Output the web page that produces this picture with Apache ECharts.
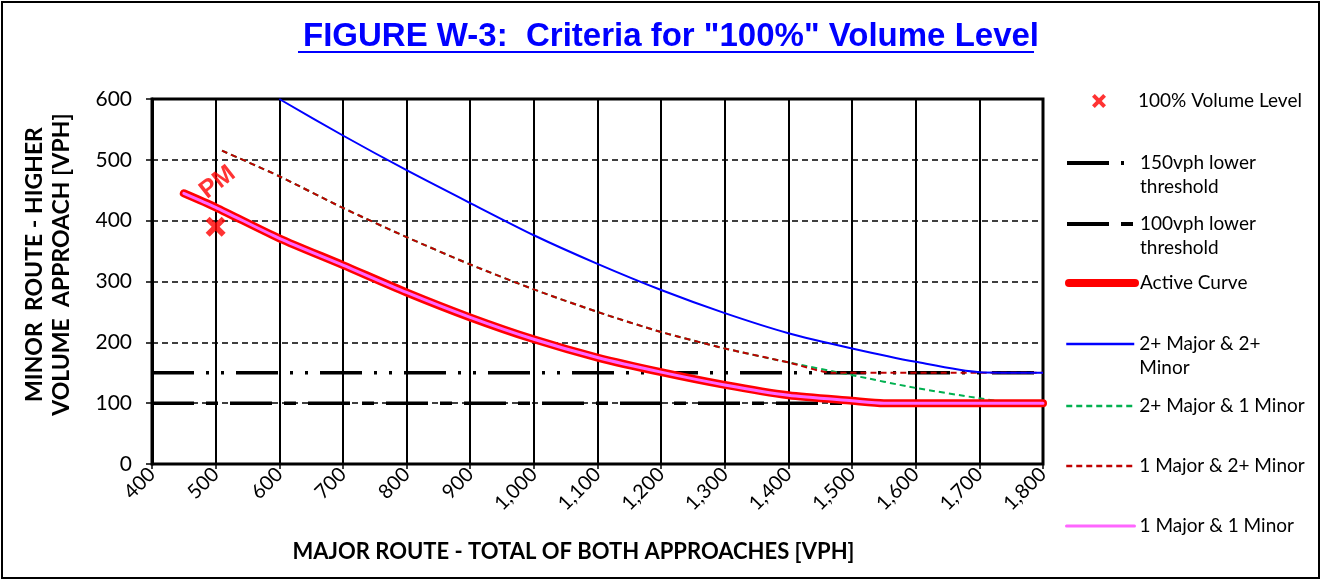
<!DOCTYPE html>
<html><head><meta charset="utf-8">
<script src="https://cdn.jsdelivr.net/npm/echarts@6/dist/echarts.min.js"></script>
<style>html,body{margin:0;padding:0;background:#fff}#c{width:1323px;height:581px}</style>
</head><body><div id="c"></div>
<script>
// ---- data ----
const titleText = 'FIGURE W-3:  Criteria for "100%" Volume Level';
const xAxisName = 'MAJOR ROUTE - TOTAL OF BOTH APPROACHES [VPH]';
const yAxisName = 'MINOR  ROUTE - HIGHER\nVOLUME  APPROACH [VPH]';

const volPointX = [500];
const volPointY = [390];
const pmLabelX = [503];
const pmLabelY = [463];

const thrX = [400, 1800];
const thr150Y = [150, 150];
const thr100Y = [100, 100];

const blueX = [600, 700, 800, 900, 1000, 1100, 1200, 1300, 1400, 1500, 1600, 1700, 1800];
const blueY = [600, 540, 483, 429, 376, 329, 286, 248, 215, 190, 168, 151, 150];

const redDashX = [510, 600, 700, 800, 900, 1000, 1100, 1200, 1300, 1400, 1470, 1800];
const redDashY = [515, 473, 421, 373, 328, 287, 250, 217, 190, 167, 150, 150];

const greenX = [510, 600, 700, 800, 900, 1000, 1100, 1200, 1300, 1400, 1500, 1600, 1700, 1750];
const greenY = [515, 473, 421, 373, 328, 287, 250, 217, 190, 167, 146, 125, 108, 100];

const pinkX = [450, 500, 600, 700, 800, 900, 1000, 1100, 1200, 1300, 1400, 1500, 1550, 1800];
const pinkY = [445, 422, 371, 327, 282, 241, 205, 175, 151, 130, 113, 104, 100, 100];

const legendNames = ['100% Volume Level', '150vph lower threshold', '100vph lower threshold', 'Active Curve',
  '2+ Major & 2+ Minor', '2+ Major & 1 Minor', '1 Major & 2+ Minor', '1 Major & 1 Minor'];
const legendLabels = ['100% Volume Level', '150vph lower\nthreshold', '100vph lower\nthreshold', 'Active Curve',
  '2+ Major & 2+\nMinor', '2+ Major & 1 Minor', '1 Major & 2+ Minor', '1 Major & 1 Minor'];

// ---- build ----
const zip = (xs, ys) => xs.map((x, i) => [x, ys[i]]);
const FONT = 'Lato';
const X_PATH = 'path://M0,4 L4,0 L10,6 L16,0 L20,4 L14,10 L20,16 L16,20 L10,14 L4,20 L0,16 L6,10 Z';

const chart = echarts.init(document.getElementById('c'));

const cv = document.createElement('canvas').getContext('2d');
const titleFS = 33;
cv.font = 'bold ' + titleFS + 'px "Liberation Sans"';
const tW = cv.measureText(titleText).width;
const tCenter = 666;

const legendCenters = [101, 163, 224, 283, 344, 406, 466, 526];
const legendLineW = [0, 4, 4, 8, 2.5, 2.5, 2.5, 3];
const LH = 24;
const legends = legendNames.map((n, i) => {
  const twoLine = legendLabels[i].indexOf('\n') >= 0;
  const isScatter = i === 0;
  const l = {
    data: [n], orient: 'vertical', left: isScatter ? 1092 : 1065,
    top: twoLine ? legendCenters[i] - 1.5 * LH : legendCenters[i] - LH / 2,
    itemWidth: i === 3 ? 66 : 68, itemHeight: 14, padding: 0, itemGap: 0,
    selectedMode: false,
    formatter: () => twoLine ? ' \n' + legendLabels[i] : legendLabels[i],
    textStyle: { fontFamily: FONT, fontSize: 19, color: '#000', lineHeight: LH }
  };
  if (!isScatter) {
    l.itemStyle = { opacity: 0 };
    l.lineStyle = { width: legendLineW[i] };
  }
  return l;
});

const lineBase = { type: 'line', showSymbol: false, symbol: 'none', silent: true, animation: false };

const option = {
  animation: false,
  backgroundColor: '#fff',
  title: {
    text: titleText, left: tCenter - tW / 2, top: 15,
    textStyle: { fontFamily: '"Liberation Sans"', fontWeight: 'bold', fontSize: titleFS, color: '#0000FF' }
  },
  graphic: [
    { type: 'rect', shape: { x: 2, y: 2, width: 1317, height: 576 }, style: { fill: 'none', stroke: '#000', lineWidth: 2 }, silent: true },
    { type: 'line', shape: { x1: tCenter - tW / 2, y1: 52, x2: tCenter + tW / 2, y2: 52 }, style: { stroke: '#0000FF', lineWidth: 2 }, silent: true }
  ],
  legend: legends,
  grid: { left: 152, right: 280, top: 99, bottom: 117, show: true, borderColor: '#000', borderWidth: 3 },
  xAxis: {
    type: 'value', min: 400, max: 1800, interval: 100,
    name: xAxisName, nameLocation: 'middle', nameGap: 77,
    nameTextStyle: { fontFamily: FONT, fontWeight: 'bold', fontSize: 22, color: '#000', padding: [0, 48, 0, 0] },
    axisLine: { show: true, lineStyle: { color: '#000', width: 2 } },
    axisTick: { show: true, length: 5, lineStyle: { color: '#000', width: 1.5 } },
    axisLabel: { rotate: 45, margin: 7, fontFamily: FONT, fontSize: 20, color: '#000',
      formatter: v => v.toLocaleString('en-US') },
    splitLine: { show: true, lineStyle: { color: '#000', width: 2 } }
  },
  yAxis: {
    type: 'value', min: 0, max: 600, interval: 100,
    name: yAxisName, nameLocation: 'middle', nameGap: 77, nameRotate: 90,
    nameTextStyle: { fontFamily: FONT, fontWeight: 'bold', fontSize: 23, color: '#000', lineHeight: 27, padding: [0, 0, 0, 34] },
    axisLine: { show: true, lineStyle: { color: '#000', width: 3 } },
    axisTick: { show: true, length: 6, lineStyle: { color: '#000', width: 1.5 } },
    axisLabel: { margin: 20, fontFamily: FONT, fontSize: 21, color: '#000' },
    splitLine: { show: true, lineStyle: { color: '#000', width: 1.5, type: [6, 4] } }
  },
  series: [
    Object.assign({}, lineBase, { name: legendNames[1], data: zip(thrX, thr150Y), color: '#000',
      lineStyle: { color: '#000', width: 3.5, type: [42, 12, 3, 12, 3, 12], cap: 'butt' } }),
    Object.assign({}, lineBase, { name: legendNames[2], data: zip(thrX, thr100Y), color: '#000',
      lineStyle: { color: '#000', width: 3.5, type: [42, 12, 12, 12], cap: 'butt' } }),
    Object.assign({}, lineBase, { name: legendNames[5], data: zip(greenX, greenY), color: '#00B050', smooth: 0.25,
      lineStyle: { color: '#00B050', width: 2, type: [6, 4] } }),
    Object.assign({}, lineBase, { name: legendNames[6], data: zip(redDashX, redDashY), color: '#C00000', smooth: 0.25,
      lineStyle: { color: '#C00000', width: 2, type: [6, 4] } }),
    Object.assign({}, lineBase, { name: legendNames[4], data: zip(blueX, blueY), color: '#0000FF', smooth: 0.25,
      lineStyle: { color: '#0000FF', width: 2 } }),
    Object.assign({}, lineBase, { name: legendNames[3], data: zip(pinkX, pinkY), color: '#FF0000', smooth: 0.25,
      lineStyle: { color: '#FF0000', width: 8, cap: 'round', join: 'round' } }),
    Object.assign({}, lineBase, { name: legendNames[7], data: zip(pinkX, pinkY), color: '#FF66FF', smooth: 0.25,
      lineStyle: { color: '#FF66FF', width: 3, cap: 'round' } }),
    { type: 'scatter', name: legendNames[0], data: zip(volPointX, volPointY), symbol: X_PATH, symbolSize: 20,
      itemStyle: { color: '#FF0000' }, silent: true, z: 5 },
    { type: 'scatter', name: 'PM', data: zip(pmLabelX, pmLabelY), symbolSize: 0, silent: true, z: 5,
      label: { show: true, position: 'inside', formatter: 'PM', rotate: 38,
        fontFamily: '"Liberation Sans"', fontWeight: 'bold', fontSize: 25, color: '#FF0000' } }
  ]
};
chart.setOption(option);
</script></body></html>
